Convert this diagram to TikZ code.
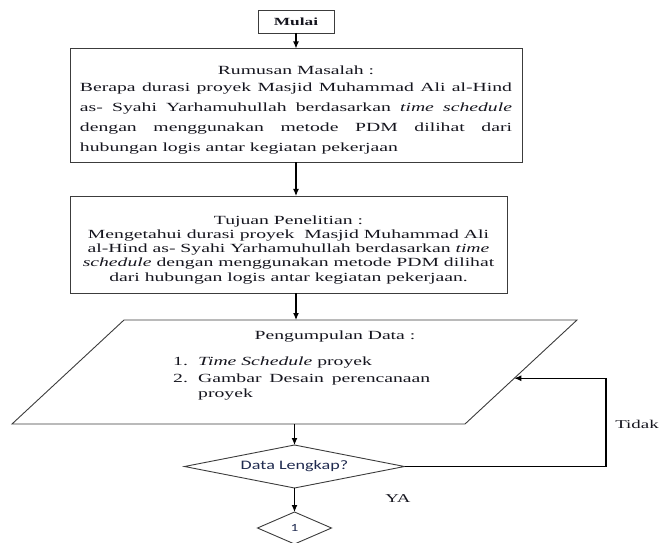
\documentclass[tikz,border=0pt]{standalone}
\usepackage{fontspec}
\setmainfont{Liberation Serif}[FakeStretch=1.58]
\newfontfamily\calfont{Carlito}[FakeStretch=1.4]
\usetikzlibrary{shapes.geometric,arrows.meta,calc}
\definecolor{linec}{HTML}{3C3C3C}
\definecolor{txtc}{HTML}{15151E}
\definecolor{navy}{HTML}{1F2A4F}
\begin{document}
\begin{tikzpicture}[x=1bp,y=-1bp,
  every node/.style={text=txtc},
  box/.style={draw=linec, line width=0.9bp, rectangle, inner sep=0pt, outer sep=0pt},
  shapeline/.style={draw=linec, line width=0.9bp, inner sep=0pt, outer sep=0pt},
  conn/.style={draw=black, line width=1.1bp, -{Latex[length=7bp,width=6bp]}},
  serif/.style={font=\fontsize{12.5}{14.5}\selectfont},
  sans/.style={font=\calfont\fontsize{13}{15}\selectfont, text=navy}
]
\useasboundingbox (0,0) rectangle (659,543);

% Start
\node[box, minimum width=76bp, minimum height=23bp,
      font=\fontsize{11}{13}\selectfont\bfseries] (mulai) at (296,21.5) {Mulai};

% Problem statement
\node[box, minimum width=452bp, minimum height=114bp, text width=432bp, align=justify,
      font=\fontsize{12.5}{20}\selectfont] (rumusan) at (296,105.5)
  {\makebox[432bp]{\rule{0pt}{18bp}Rumusan Masalah :}\par\vspace{-3bp}
   Berapa durasi proyek Masjid Muhammad Ali al-Hind\linebreak
   as- Syahi Yarhamuhullah berdasarkan \textit{time schedule}\linebreak
   dengan menggunakan metode PDM dilihat dari\linebreak
   hubungan logis antar kegiatan pekerjaan};

% Research objective
\node[box, minimum width=437bp, minimum height=97bp, align=center,
      font=\fontsize{12.5}{14.3}\selectfont] (tujuan) at (288.5,244.5)
  {\rule{0pt}{19bp}Tujuan Penelitian :\\
   Mengetahui durasi proyek \ Masjid Muhammad Ali\\
   al-Hind as- Syahi Yarhamuhullah berdasarkan \textit{time}\\
   \textit{schedule} dengan menggunakan metode PDM dilihat\\
   dari hubungan logis antar kegiatan pekerjaan.};

% Data collection (parallelogram drawn on an invisible frame node)
\node[inner sep=0pt, outer sep=0pt, minimum width=565bp, minimum height=104bp] (data) at (294.5,372) {};
\coordinate (dTL) at ($(data.north west)+(112,0)$);
\coordinate (dBR) at ($(data.south east)-(112,0)$);
\draw[shapeline] (dTL) -- (data.north east) -- (dBR) -- (data.south west) -- cycle;
\node[serif, anchor=base] (pdtitle) at (335,339) {Pengumpulan Data :};
\node[serif, anchor=base west, inner sep=0pt] (item1) at (173,365)
  {\makebox[25bp][l]{1.}\textit{Time Schedule} proyek};
\node[serif, anchor=base west, inner sep=0pt] (item2) at (173,382)
  {\makebox[25bp][l]{2.}\makebox[232bp][s]{Gambar Desain perencanaan}};
\node[serif, anchor=base west, inner sep=0pt] (item3) at (198,397) {proyek};

% Decision
\node[diamond, shapeline, shape aspect=5, minimum width=220bp, minimum height=43bp, sans]
  (dec) at (294.5,466.5) {Data Lengkap?};
\node[serif, font=\fontsize{12}{14}\selectfont] (ya) at (398,499) {YA};
\node[serif, font=\fontsize{12}{14}\selectfont] (tidak) at (637,424) {Tidak};

% Off-page connector
\node[diamond, shapeline, shape aspect=2.3, minimum width=74bp, minimum height=32bp,
      font=\calfont\fontsize{11}{13}\selectfont, text=navy] (one) at (294.5,528) {1};

% Connectors
\draw[conn] (mulai.south) -- (rumusan.north);
\draw[conn] (rumusan.south) -- (rumusan.south |- tujuan.north);
\draw[conn] (rumusan.south |- tujuan.south) -- (rumusan.south |- data.north);
\draw[conn] (data.south) -- (dec.north);
\draw[conn] (dec.south) -- (one.north);
\coordinate (fb) at ($(data.north east)!0.56!(dBR)$);
\coordinate (turn) at (606,466.5);
\draw[conn] (dec.east) -- (turn) |- (fb);
\end{tikzpicture}
\end{document}
